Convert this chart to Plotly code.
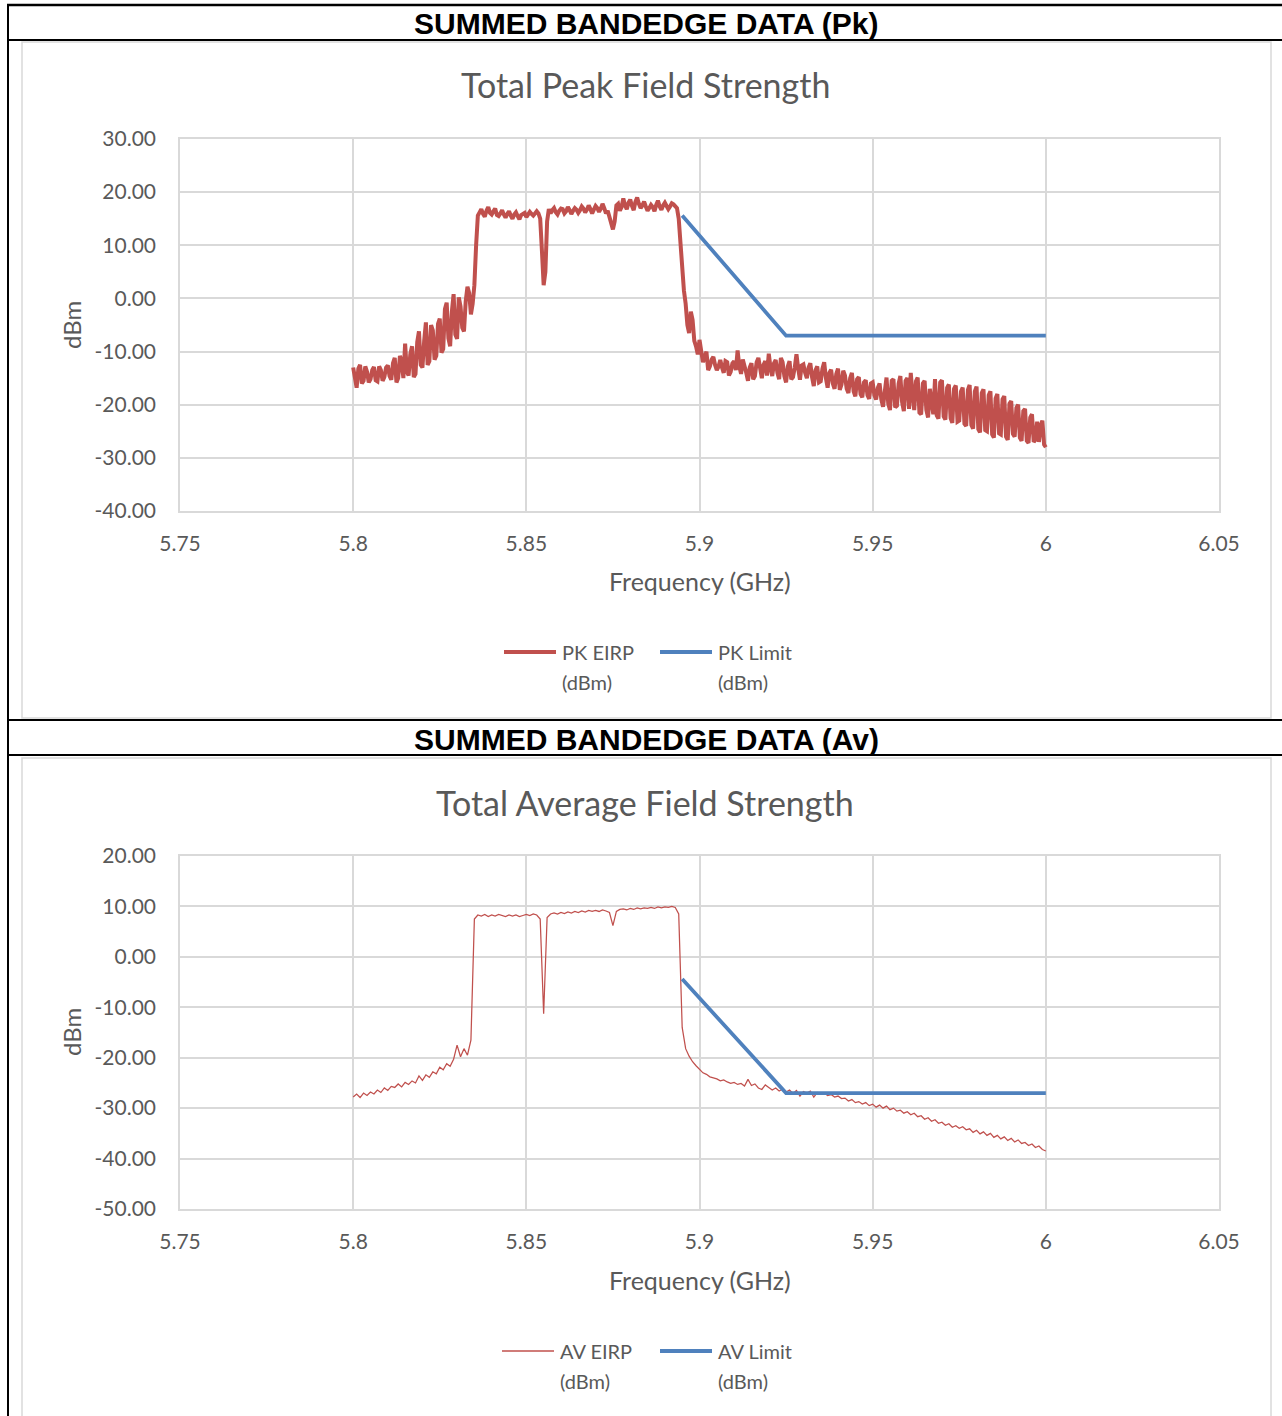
import plotly.graph_objects as go

W, H = 1282, 1416

# sweep grid (GHz), 1 MHz steps
freq = [round(5.8 + 0.001 * i, 3) for i in range(201)]
# half-step points of the peak sweep (5.8005 ... 5.9995)
freq_mid = [round(5.8005 + 0.001 * i, 4) for i in range(200)]

# peak EIRP (dBm), on the 1 MHz grid
pk_eirp = [
    -13.0, -16.8, -12.5, -15.5, -13.8, -15.2, -12.9, -15.6, -13.5, -14.8,
    -12.6, -15.3, -11.2, -15.0, -12.0, -8.5, -14.5, -9.0, -14.2, -6.2,
    -13.0, -4.5, -11.8, -6.0, -10.8, -3.8, -9.5, -0.8, -9.0, 0.8,
    -7.6, -1.5, -6.2, 2.2, -3.0, 2.5, 15.6, 16.8, 15.4, 17.2,
    15.8, 16.9, 15.5, 16.6, 15.2, 16.4, 15.0, 16.2, 14.9, 16.0,
    15.3, 16.3, 15.6, 16.4, 15.0, 2.5, 14.5, 16.0, 17.0, 15.8,
    16.9, 16.0, 17.2, 15.9, 17.0, 16.1, 17.3, 16.2, 17.5, 16.0,
    17.4, 16.3, 17.8, 16.0, 15.5, 13.0, 17.5, 16.5, 18.8, 16.8,
    18.6, 16.6, 19.0, 17.0, 18.2, 16.5, 17.6, 16.4, 18.4, 16.7,
    18.0, 16.8, 17.9, 17.2, 15.0, 4.5, -1.0, -6.5, -4.0, -9.0,
    -7.8, -12.0, -10.0, -12.8, -11.0, -13.5, -11.6, -14.0, -12.0, -13.8,
    -11.8, -9.8, -14.2, -12.6, -15.5, -12.2, -14.6, -11.2, -15.0, -11.8,
    -10.4, -14.6, -11.6, -15.2, -12.0, -15.8, -11.8, -14.8, -10.5, -15.3,
    -12.4, -15.0, -12.2, -16.5, -12.8, -15.6, -12.0, -16.8, -13.4, -17.0,
    -13.2, -16.2, -14.5, -17.8, -14.0, -18.4, -14.8, -18.6, -15.4, -18.9,
    -15.8, -19.0, -16.0, -20.4, -14.9, -21.0, -15.2, -20.2, -14.6, -21.2,
    -15.0, -14.0, -21.0, -14.9, -21.8, -15.5, -22.4, -19.0, -15.2, -22.6,
    -15.4, -22.8, -16.2, -23.4, -16.4, -23.0, -16.8, -24.0, -16.3, -24.5,
    -16.6, -25.2, -17.1, -25.0, -17.5, -26.2, -18.0, -25.6, -18.4, -26.6,
    -19.3, -26.0, -20.0, -26.8, -20.8, -27.2, -21.8, -26.6, -27.0, -23.0,
    -28.0,
]

# peak EIRP at the half-step points (dBm)
pk_eirp_mid = [
    -14.5, -13.2, -16.0, -12.8, -15.8, -13.5, -15.4, -12.8, -15.5, -13.0,
    -14.6, -12.2, -15.8, -10.8, -15.0, -13.8, -10.5, -14.8, -8.2, -12.5,
    -8.0, -12.5, -5.0, -11.5, -4.8, -10.2, -2.0, -7.5, -2.5, -6.8,
    0.2, -5.5, -0.5, 1.0, -1.0, 10.0, 16.2, 15.9, 16.5, 16.1,
    16.4, 15.7, 16.0, 15.8, 15.9, 15.6, 15.8, 15.5, 15.7, 16.1,
    15.8, 15.9, 16.0, 16.0, 9.0, 5.0, 16.8, 16.6, 16.2, 16.5,
    16.8, 16.4, 16.6, 16.5, 16.7, 16.6, 16.9, 16.7, 16.8, 16.7,
    17.0, 16.9, 17.0, 16.5, 14.0, 14.5, 17.8, 17.2, 17.5, 18.0,
    17.4, 18.2, 17.8, 17.5, 17.3, 17.0, 17.2, 17.6, 17.3, 17.5,
    17.4, 17.3, 17.7, 17.0, 10.0, 1.5, -5.0, -2.5, -8.0, -10.5,
    -9.5, -11.0, -13.5, -11.5, -12.5, -12.8, -13.0, -11.8, -14.5, -12.2,
    -13.5, -12.8, -11.5, -14.0, -13.0, -15.2, -12.0, -13.8, -12.5, -14.5,
    -13.0, -12.2, -14.0, -11.2, -14.6, -12.8, -15.2, -13.0, -13.2, -12.6,
    -14.0, -13.0, -14.8, -13.5, -15.8, -13.2, -15.0, -14.0, -16.0, -14.2,
    -17.2, -13.6, -17.0, -15.0, -17.5, -15.2, -18.0, -15.8, -18.2, -16.0,
    -18.2, -16.8, -19.0, -17.5, -19.8, -15.5, -20.5, -16.0, -19.5, -15.5,
    -20.8, -18.0, -15.6, -21.5, -16.0, -21.0, -17.0, -21.8, -22.0, -15.8,
    -22.2, -16.8, -22.5, -17.0, -23.2, -17.5, -23.6, -17.2, -23.8, -17.5,
    -24.6, -17.8, -24.8, -18.2, -25.6, -18.8, -25.4, -19.0, -26.0, -19.8,
    -25.5, -20.6, -26.2, -21.2, -26.8, -22.4, -27.0, -23.2, -24.0, -27.5,
]

# average EIRP (dBm)
av_eirp = [
    -27.8, -27.2, -27.9, -27.0, -27.5, -26.8, -27.2, -26.4, -26.9, -26.0,
    -26.5, -25.7, -25.9, -25.2, -25.8, -24.9, -25.3, -24.6, -25.0, -23.6,
    -24.5, -23.4, -23.9, -22.8, -23.2, -21.9, -22.4, -21.2, -21.7, -20.3,
    -17.5, -19.8, -18.2, -19.5, -16.5, 7.5, 8.3, 8.1, 8.4, 8.0,
    8.3, 8.1, 8.4, 8.2, 8.0, 8.3, 8.1, 8.3, 8.0, 8.2,
    8.4, 8.2, 8.5, 8.3, 7.5, -11.3, 7.8, 8.5, 8.7, 8.5,
    8.8, 8.6, 8.9, 8.7, 9.0, 8.8, 9.1, 8.9, 9.2, 9.0,
    9.2, 9.0, 9.3, 9.1, 8.8, 6.2, 9.0, 9.4, 9.5, 9.3,
    9.6, 9.4, 9.7, 9.5, 9.7, 9.6, 9.8, 9.6, 9.9, 9.7,
    9.9, 9.8, 10.0, 9.8, 8.5, -14.0, -18.2, -19.7, -20.8, -21.6,
    -22.4, -23.0, -23.3, -23.8, -24.0, -24.2, -24.6, -24.4, -24.8, -25.1,
    -24.9, -25.3, -25.1, -25.6, -24.3, -25.5, -25.2, -26.0, -26.3, -25.4,
    -25.9, -26.4, -26.0, -26.6, -26.2, -26.8, -26.4, -27.1, -26.5, -27.6,
    -26.7, -27.0, -26.6, -27.8, -26.9, -27.2, -27.0, -27.5, -27.3, -27.8,
    -27.6, -28.1, -28.0, -28.6, -28.3, -28.9, -28.7, -29.2, -28.9, -29.5,
    -29.2, -29.8, -29.4, -30.0, -29.6, -30.3, -30.0, -30.6, -30.4, -31.0,
    -30.7, -31.3, -31.0, -31.7, -31.5, -32.2, -31.9, -32.6, -32.3, -33.0,
    -32.8, -33.4, -33.1, -33.8, -33.5, -34.0, -33.7, -34.3, -34.1, -34.8,
    -34.4, -35.1, -34.7, -35.4, -35.0, -35.8, -35.4, -36.1, -35.7, -36.4,
    -36.0, -36.7, -36.3, -37.0, -36.8, -37.4, -37.1, -37.8, -37.5, -38.2,
    -38.5,
]

limit_freq = [5.895, 5.925, 6.0]
pk_limit = [15.6, -7.0, -7.0]
av_limit = [-4.4, -27.0, -27.0]

x_ticks = [5.75, 5.8, 5.85, 5.9, 5.95, 6.0, 6.05]
x_labels = ["5.75", "5.8", "5.85", "5.9", "5.95", "6", "6.05"]
pk_yticks = [30, 20, 10, 0, -10, -20, -30, -40]
av_yticks = [20, 10, 0, -10, -20, -30, -40, -50]

RED = "#C0504D"
BLUE = "#4F81BD"
TXT = "#595959"
GRID = "#D9D9D9"
FONT = "Lato"


def px(x):
    return x / W


def py(y):
    return 1 - y / H


# merge the full-step and half-step peak readings in sweep order
pk_x, pk_y = [], []
for i in range(len(freq_mid)):
    pk_x += [freq[i], freq_mid[i]]
    pk_y += [pk_eirp[i], pk_eirp_mid[i]]
pk_x.append(freq[-1])
pk_y.append(pk_eirp[-1])

fig = go.Figure()

fig.add_trace(go.Scatter(x=pk_x, y=pk_y, mode="lines", name="PK EIRP (dBm)",
                         line=dict(color=RED, width=4), xaxis="x", yaxis="y"))
fig.add_trace(go.Scatter(x=limit_freq, y=pk_limit, mode="lines", name="PK Limit (dBm)",
                         line=dict(color=BLUE, width=3.75), xaxis="x", yaxis="y"))
fig.add_trace(go.Scatter(x=freq, y=av_eirp, mode="lines", name="AV EIRP (dBm)",
                         line=dict(color=RED, width=1.25), xaxis="x2", yaxis="y2"))
fig.add_trace(go.Scatter(x=limit_freq, y=av_limit, mode="lines", name="AV Limit (dBm)",
                         line=dict(color=BLUE, width=3.75), xaxis="x2", yaxis="y2"))


def xaxis_style(anchor):
    return dict(
        domain=[px(180), px(1219)], range=[5.75, 6.05], anchor=anchor,
        tickvals=x_ticks, ticktext=x_labels, automargin=False,
        showgrid=True, gridcolor=GRID, gridwidth=1.5,
        showline=True, linecolor=GRID, linewidth=1.5, mirror=True,
        zeroline=False, ticks="", ticklabelstandoff=13,
        tickfont=dict(family=FONT, size=21, color=TXT),
    )


def yaxis_style(anchor, top, bottom, ticks, rng):
    return dict(
        domain=[py(bottom), py(top)], range=rng, anchor=anchor,
        tickvals=ticks, ticktext=[f"{v:.2f}" for v in ticks], automargin=False,
        showgrid=True, gridcolor=GRID, gridwidth=1.5,
        showline=True, linecolor=GRID, linewidth=1.5, mirror=True,
        zeroline=False, ticks="", ticklabelstandoff=18,
        tickfont=dict(family=FONT, size=21, color=TXT),
    )


annotations = []


def text(x, y, s, size, **kw):
    font = dict(family=kw.pop("family", FONT), size=size, color=kw.pop("color", TXT))
    if "weight" in kw:
        font["weight"] = kw.pop("weight")
    annotations.append(dict(x=px(x), y=py(y), xref="paper", yref="paper", text=s,
                            showarrow=False, font=font,
                            xanchor=kw.pop("xanchor", "center"), yanchor="middle", **kw))


# section headers
text(646, 23, "SUMMED BANDEDGE DATA (Pk)", 30, family="Liberation Sans, Arial", color="black", weight="bold")
text(646, 739, "SUMMED BANDEDGE DATA (Av)", 30, family="Liberation Sans, Arial", color="black", weight="bold")

# chart titles and axis titles
text(645, 85, "Total Peak Field Strength", 34)
text(645, 802, "Total Average Field Strength", 34)
text(700, 581, "Frequency (GHz)", 25)
text(700, 1280, "Frequency (GHz)", 25)
text(71, 325, "dBm", 24, textangle=-90)
text(71, 1032, "dBm", 24, textangle=-90)

# legends (drawn by hand so the swatch length matches)
legend_items = [
    (504, 652, "PK EIRP", RED, 4), (660, 652, "PK Limit", BLUE, 4),
    (502, 1351, "AV EIRP", RED, 1.5), (660, 1351, "AV Limit", BLUE, 4),
]
shapes = []
for lx, ly, label, color, width in legend_items:
    text(lx + 56, ly, label, 20, xanchor="left")
    text(lx + 56, ly + 30, "(dBm)", 20, xanchor="left")
    shapes.append(dict(type="line", xref="paper", yref="paper", x0=px(lx), x1=px(lx + 52),
                       y0=py(ly), y1=py(ly), line=dict(color=color, width=width)))

# chart frames
for y0, y1 in [(42, 718), (758, 1430)]:
    shapes.append(dict(type="rect", xref="paper", yref="paper", x0=px(22), x1=px(1271),
                       y0=py(y1), y1=py(y0), line=dict(color=GRID, width=1.5)))

# table borders
for yy in [5, 40, 720, 755]:
    shapes.append(dict(type="line", xref="paper", yref="paper", x0=px(7), x1=px(1290),
                       y0=py(yy), y1=py(yy), line=dict(color="black", width=2.5 if yy == 5 else 2)))
shapes.append(dict(type="line", xref="paper", yref="paper", x0=px(8), x1=px(8),
                   y0=py(4), y1=py(1430), line=dict(color="black", width=2)))

fig.update_layout(
    width=W, height=H,
    margin=dict(l=0, r=0, t=0, b=0, autoexpand=False),
    paper_bgcolor="white", plot_bgcolor="white",
    showlegend=False,
    xaxis=xaxis_style("y"),
    yaxis=yaxis_style("x", 139, 511, pk_yticks, [-40, 30]),
    xaxis2=xaxis_style("y2"),
    yaxis2=yaxis_style("x2", 856, 1209, av_yticks, [-50, 20]),
    annotations=annotations,
    shapes=shapes,
)

# drop the default page margin so the figure sits at the window's top-left corner
fig.write_html("out.html", config={"displayModeBar": False},
               post_script="document.body.style.margin = '0';")
